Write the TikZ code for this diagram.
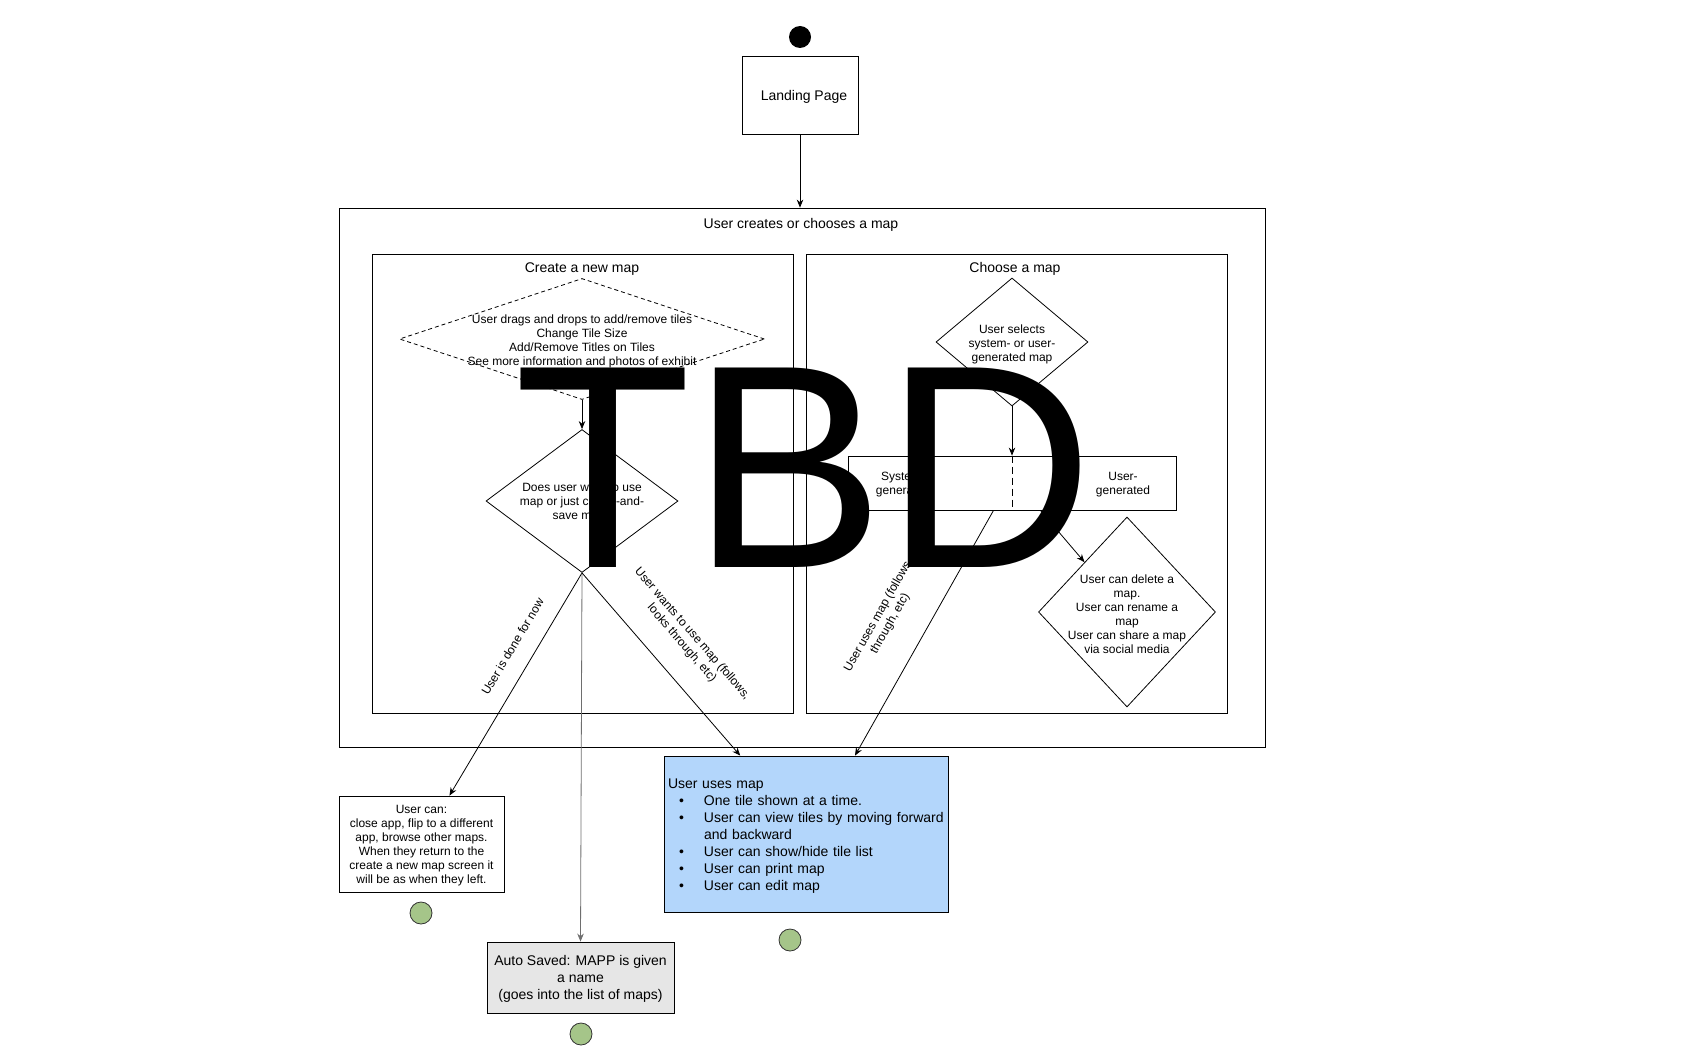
\documentclass[tikz,border=0pt]{standalone}
\usepackage{fontspec}
\setmainfont{Liberation Sans}
\usetikzlibrary{shapes.geometric,arrows.meta}
\definecolor{endgreen}{HTML}{A5C589}
\definecolor{usemapblue}{HTML}{B3D6FB}
\definecolor{savedgray}{HTML}{E6E6E6}
\definecolor{middlegray}{HTML}{6E6E6E}

\begin{document}
\begin{tikzpicture}[x=1pt, y=-1pt, line width=0.8pt,
    >={Stealth[length=8pt,width=6.5pt]},
    every node/.style={font=\fontsize{12}{14}\selectfont, align=center},
    every label/.style={yshift=-2pt},
    big/.style={font=\fontsize{14}{17}\selectfont},
    box/.style={draw, rectangle, inner sep=0pt},
    choice/.style={draw, diamond, inner sep=0pt},
    finish/.style={draw=black!80, fill=endgreen, circle, minimum size=22pt, inner sep=0pt}]
    \useasboundingbox (0,0) rectangle (1692,1057);

    \node[fill=black, circle, minimum size=22pt, inner sep=0pt] (start) at (800,37) {};
    \node[box, big, text depth=0pt, minimum width=116pt, minimum height=78pt] (landing) at (800,95) {\hspace*{8pt}Landing Page};

    \node[box, minimum width=926pt, minimum height=539pt] (outer) at (802,477.5) {};
    \node[big] at (801,225) {User creates or chooses a map};
    \node[box, minimum width=421pt, minimum height=459pt] (create) at (582.5,483.5) {};
    \node[big] at (582,269) {Create a new map};
    \node[box, minimum width=421pt, minimum height=459pt] (choose) at (1016.5,483.5) {};
    \node[big] at (1015,269) {Choose a map};

    \node[choice, dash pattern=on 4pt off 3pt, minimum width=365pt, minimum height=121pt,
      label={center:{User drags and drops to add/remove tiles\\Change Tile Size\\Add/Remove Titles on Tiles\\See more information and photos of exhibit}}] (edit) at (582,339) {};
    \node[choice, minimum width=192pt, minimum height=143pt,
      label={center:{Does user want to use\\map or just create-and-\\save map?}}] (decide) at (582,501) {};

    \node[choice, minimum width=152pt, minimum height=128pt,
      label={center:{User selects\\system- or user-\\generated map}}] (pick) at (1012,342) {};
    \node[box, minimum width=328pt, minimum height=54pt] (split) at (1012,483) {};
    \node at (903,485) {System-\\generated};
    \node at (1123,485) {User-\\generated};
    \node[choice, minimum width=177pt, minimum height=190pt,
      label={center:{User can delete a\\map.\\User can rename a\\map\\User can share a map\\via social media}}] (manage) at (1127,612) {};

    \node[box, text depth=0pt, minimum width=165pt, minimum height=96pt] (away) at (421.5,844) {User can:\\close app, flip to a different\\app, browse other maps.\\When they return to the\\create a new map screen it\\will be as when they left.};
    \node[box, big, text depth=0pt, fill=savedgray, minimum width=187pt, minimum height=71pt] (saved) at (580.5,977.5) {Auto Saved: MAPP is given\\a name\\(goes into the list of maps)};
    \node[box, big, fill=usemapblue, minimum width=284pt, minimum height=156pt, text width=280pt, align=left] (usemap) at (806,834) {\rule{0pt}{14pt}\hspace*{2pt}User uses map\\
      \hspace*{13pt}\makebox[25pt][l]{\textbullet}One tile shown at a time.\\
      \hspace*{13pt}\makebox[25pt][l]{\textbullet}User can view tiles by moving forward\\
      \hspace*{38pt}and backward\\
      \hspace*{13pt}\makebox[25pt][l]{\textbullet}User can show/hide tile list\\
      \hspace*{13pt}\makebox[25pt][l]{\textbullet}User can print map\\
      \hspace*{13pt}\makebox[25pt][l]{\textbullet}User can edit map};

    \node[finish] (awayend) at (421,913) {};
    \node[finish] (savedend) at (581,1034) {};
    \node[finish] (usemapend) at (790,940) {};

    \draw[->] (landing) -- (landing |- outer.north);
    \draw[->] (edit) -- (decide);
    \draw[->] (decide.south) -- (away.60) node[pos=0.38, sloped, above=14pt] {User is done for now};
    \draw[->, middlegray] (decide.south) -- (saved.north);
    \draw[->] (decide.south) -- (usemap.130) node[pos=0.49, sloped, above=20pt] {User wants to use map (follows,\\looks through, etc)};
    \draw[->] (pick) -- (split);
    \draw[dash pattern=on 7pt off 4pt] (split.north) -- (split.south);
    \draw[->] (split.236) -- (usemap.58) node[pos=0.53, sloped, above=25pt] {User uses map (follows\\through, etc)};
    \draw[->] (split.-44) -- (manage);

    \node[font=\fontsize{290}{290}\selectfont, inner sep=0pt] (tbd) at (804,468) {TBD};
\end{tikzpicture}
\end{document}
